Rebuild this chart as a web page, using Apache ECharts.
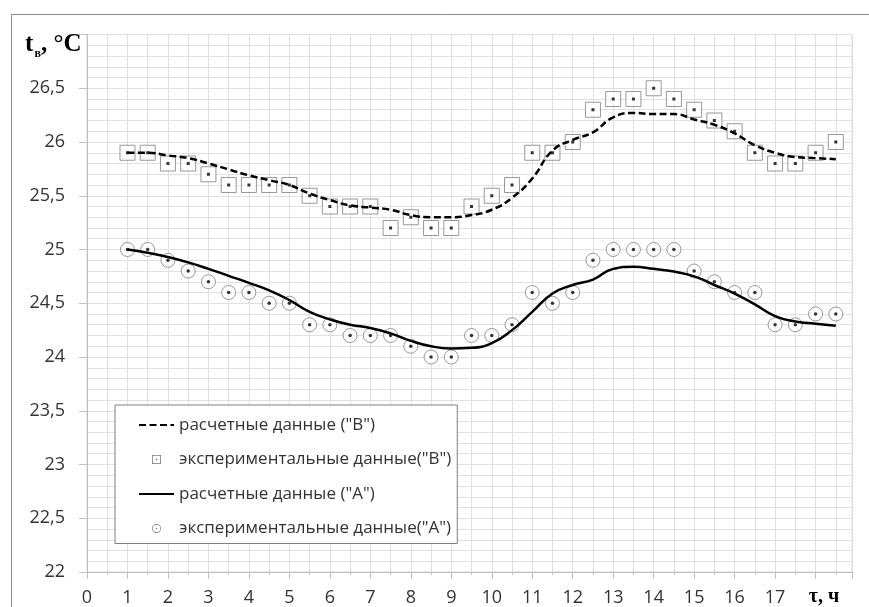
<!DOCTYPE html>
<html>
<head>
<meta charset="utf-8">
<script src="https://cdn.jsdelivr.net/npm/echarts@6/dist/echarts.min.js"></script>
<style>
html,body{margin:0;padding:0;background:#fff;}
#chart{width:869px;height:607px;}
</style>
</head>
<body>
<div id="chart"></div>
<script>
// time, h
const tHours = [1, 1.5, 2, 2.5, 3, 3.5, 4, 4.5, 5, 5.5, 6, 6.5, 7, 7.5, 8, 8.5, 9, 9.5,
  10, 10.5, 11, 11.5, 12, 12.5, 13, 13.5, 14, 14.5, 15, 15.5, 16, 16.5, 17, 17.5, 18, 18.5];
// computed "B"
const calcB = [25.9, 25.9, 25.875, 25.85, 25.80, 25.745, 25.69, 25.645, 25.60, 25.52, 25.46, 25.41,
  25.39, 25.37, 25.32, 25.30, 25.30, 25.32, 25.37, 25.48, 25.66, 25.92, 26.02, 26.09, 26.23, 26.27,
  26.26, 26.26, 26.21, 26.16, 26.08, 25.97, 25.90, 25.86, 25.85, 25.84];
// experimental "B"
const expB = [25.9, 25.9, 25.8, 25.8, 25.7, 25.6, 25.6, 25.6, 25.6, 25.5, 25.4, 25.4, 25.4, 25.2,
  25.3, 25.2, 25.2, 25.4, 25.5, 25.6, 25.9, 25.9, 26.0, 26.3, 26.4, 26.4, 26.5, 26.4, 26.3, 26.2,
  26.1, 25.9, 25.8, 25.8, 25.9, 26.0];
// computed "A"
const calcA = [25.0, 24.97, 24.93, 24.88, 24.82, 24.755, 24.69, 24.62, 24.53, 24.42, 24.35, 24.30,
  24.27, 24.22, 24.15, 24.10, 24.08, 24.085, 24.13, 24.25, 24.42, 24.59, 24.67, 24.72, 24.82, 24.84,
  24.82, 24.795, 24.75, 24.67, 24.59, 24.49, 24.38, 24.33, 24.31, 24.29];
// experimental "A"
const expA = [25.0, 25.0, 24.9, 24.8, 24.7, 24.6, 24.6, 24.5, 24.5, 24.3, 24.3, 24.2, 24.2, 24.2,
  24.1, 24.0, 24.0, 24.2, 24.2, 24.3, 24.6, 24.5, 24.6, 24.9, 25.0, 25.0, 25.0, 25.0, 24.8, 24.7,
  24.6, 24.6, 24.3, 24.3, 24.4, 24.4];

const nameCalcB = 'расчетные данные ("B")';
const nameExpB = 'экспериментальные данные("B")';
const nameCalcA = 'расчетные данные ("A")';
const nameExpA = 'экспериментальные данные("A")';
const yTitleMain = 't';
const yTitleSub = 'в';
const yTitleUnit = ', °C';
const xTitle = 'τ, ч';

const pairs = arr => tHours.map((t, i) => [t, arr[i]]);

const sqIcon = 'path://M0 0L24 0L24 24L0 24Z M2 2L2 22L22 22L22 2Z M10 10L14 10L14 14L10 14Z';
const ciIcon = 'path://M12 0A12 12 0 1 1 12 24A12 12 0 1 1 12 0Z M12 2A10 10 0 1 0 12 22A10 10 0 1 0 12 2Z M12 10A2 2 0 1 1 12 14A2 2 0 1 1 12 10Z';

const labelFont = 'Open Sans';
const serif = 'Liberation Serif';
const chart = echarts.init(document.getElementById('chart'), null, {renderer: 'canvas'});
chart.setOption({
  animation: false,
  backgroundColor: '#fff',
  grid: {left: 87, right: 17, top: 34.5, bottom: 35, show: true, borderColor: '#d6d6d6', borderWidth: 1},
  xAxis: {
    type: 'value', min: 0, max: 18.9, interval: 1,
    axisLine: {show: true, lineStyle: {color: '#bfbfbf', width: 1}},
    axisTick: {show: true, length: 7, lineStyle: {color: '#bfbfbf'}},
    minorTick: {show: true, splitNumber: 2, length: 3, lineStyle: {color: '#bfbfbf'}},
    splitLine: {show: true, lineStyle: {color: '#e0e0e0', width: 1}},
    minorSplitLine: {show: true, lineStyle: {color: '#e0e0e0', width: 1}},
    axisLabel: {
      margin: 17, color: '#333', fontFamily: labelFont, fontSize: 18,
      formatter: v => (v > 17.5 ? '' : String(v))
    }
  },
  yAxis: {
    type: 'value', min: 22, max: 27, interval: 0.5,
    axisLine: {show: true, lineStyle: {color: '#bfbfbf', width: 1}},
    axisTick: {show: true, length: 8, lineStyle: {color: '#bfbfbf'}},
    minorTick: {show: false, splitNumber: 5},
    splitLine: {show: true, lineStyle: {color: '#e0e0e0', width: 1}},
    minorSplitLine: {show: true, lineStyle: {color: '#e0e0e0', width: 1}},
    axisLabel: {
      margin: 22, color: '#333', fontFamily: labelFont, fontSize: 18,
      formatter: v => (v >= 26.99 ? '' : String(v).replace('.', ','))
    }
  },
  legend: {
    orient: 'vertical', left: 115, top: 405,
    padding: [10, 6, 5, 23],
    itemWidth: 35, itemHeight: 9, itemGap: 14.5,
    backgroundColor: '#fff', borderColor: '#7f7f7f', borderWidth: 1, borderRadius: 0,
    textStyle: {fontFamily: labelFont, fontSize: 17, color: '#333', lineHeight: 20},
    data: [
      {name: nameCalcB, itemStyle: {opacity: 0}},
      {name: nameExpB, icon: sqIcon, itemStyle: {color: '#555', borderWidth: 0}},
      {name: nameCalcA, itemStyle: {opacity: 0}},
      {name: nameExpA, icon: ciIcon, itemStyle: {color: '#555', borderWidth: 0}}
    ]
  },
  series: [
    {
      name: nameCalcB, type: 'line', data: pairs(calcB), smooth: true, symbol: 'none',
      color: '#000', lineStyle: {color: '#000', width: 2.5, type: [7, 3.5]}
    },
    {
      name: nameCalcA, type: 'line', data: pairs(calcA), smooth: true, symbol: 'none',
      color: '#000', lineStyle: {color: '#000', width: 2.5}
    },
    {
      name: nameExpB, type: 'scatter', data: pairs(expB), symbol: 'rect', symbolSize: 15,
      itemStyle: {color: '#fff', borderColor: '#7f7f7f', borderWidth: 1}
    },
    {
      name: 'dotsB', type: 'scatter', data: pairs(expB), symbol: 'rect', symbolSize: 3, silent: true,
      itemStyle: {color: '#000'}
    },
    {
      name: nameExpA, type: 'scatter', data: pairs(expA), symbol: 'circle', symbolSize: 14,
      itemStyle: {color: '#fff', borderColor: '#7f7f7f', borderWidth: 1}
    },
    {
      name: 'dotsA', type: 'scatter', data: pairs(expA), symbol: 'circle', symbolSize: 3.5, silent: true,
      itemStyle: {color: '#000'}
    }
  ],
  graphic: [
    {
      type: 'rect', left: 9, top: 12, silent: true, z: -10,
      shape: {x: 0, y: 0, width: 900, height: 700},
      style: {fill: 'none', stroke: '#8c8c8c', lineWidth: 1}
    },
    {
      type: 'text', x: 25, y: 57, silent: true,
      style: {text: yTitleMain, fontFamily: serif, fontWeight: 'bold', fontSize: 25, fill: '#000', align: 'left', verticalAlign: 'bottom'}
    },
    {
      type: 'text', x: 34.5, y: 60, silent: true,
      style: {text: yTitleSub, fontFamily: serif, fontWeight: 'bold', fontSize: 12, fill: '#000', align: 'left', verticalAlign: 'bottom'}
    },
    {
      type: 'text', x: 41, y: 57, silent: true,
      style: {text: yTitleUnit, fontFamily: serif, fontWeight: 'bold', fontSize: 25, fill: '#000', align: 'left', verticalAlign: 'bottom'}
    },
    {
      type: 'text', x: 824, y: 597, silent: true,
      style: {
        text: xTitle, fontFamily: serif, fontWeight: 'bold', fontSize: 20,
        fill: '#000', align: 'center', verticalAlign: 'middle'
      }
    }
  ]
});
</script>
</body>
</html>
